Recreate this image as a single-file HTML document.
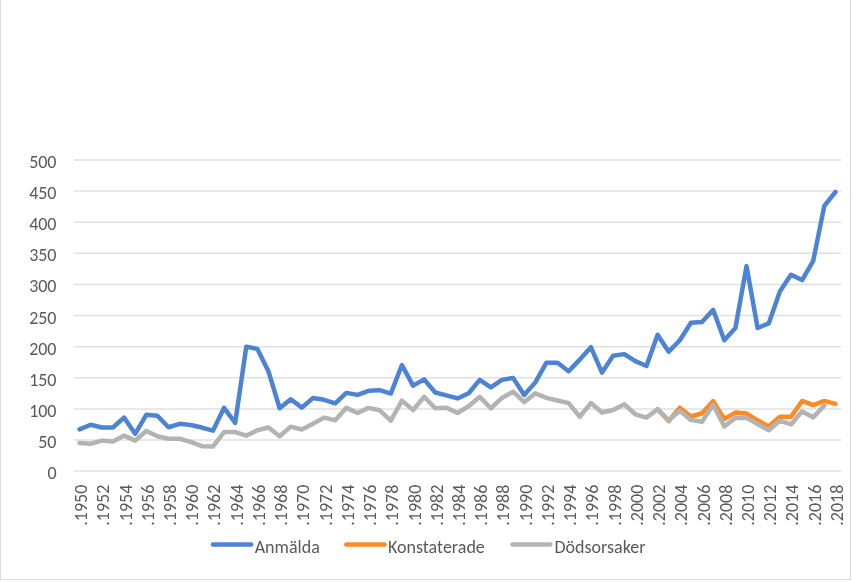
<!DOCTYPE html>
<html><head><meta charset="utf-8"><style>
html,body{margin:0;padding:0;background:#fff;}
body{width:853px;height:582px;overflow:hidden;}
svg{display:block;will-change:transform;}
text{font-family:"Carlito", "Liberation Sans", sans-serif;font-size:18px;fill:#595959;}
</style></head><body>
<svg width="853" height="582" viewBox="0 0 853 582">
<path d="M0.5,0 V579.5 H850.5 V0" fill="none" stroke="#dcdcdc" stroke-width="1.2"/>
<line x1="74.0" x2="841.0" y1="439.99" y2="439.99" stroke="#e0e0e0" stroke-width="1.5"/>
<line x1="74.0" x2="841.0" y1="408.88" y2="408.88" stroke="#e0e0e0" stroke-width="1.5"/>
<line x1="74.0" x2="841.0" y1="377.77" y2="377.77" stroke="#e0e0e0" stroke-width="1.5"/>
<line x1="74.0" x2="841.0" y1="346.66" y2="346.66" stroke="#e0e0e0" stroke-width="1.5"/>
<line x1="74.0" x2="841.0" y1="315.55" y2="315.55" stroke="#e0e0e0" stroke-width="1.5"/>
<line x1="74.0" x2="841.0" y1="284.44" y2="284.44" stroke="#e0e0e0" stroke-width="1.5"/>
<line x1="74.0" x2="841.0" y1="253.33" y2="253.33" stroke="#e0e0e0" stroke-width="1.5"/>
<line x1="74.0" x2="841.0" y1="222.22" y2="222.22" stroke="#e0e0e0" stroke-width="1.5"/>
<line x1="74.0" x2="841.0" y1="191.11" y2="191.11" stroke="#e0e0e0" stroke-width="1.5"/>
<line x1="74.0" x2="841.0" y1="160.00" y2="160.00" stroke="#e0e0e0" stroke-width="1.5"/>
<line x1="74.0" x2="841.0" y1="471.10" y2="471.10" stroke="#e0e0e0" stroke-width="1.5"/>
<text x="56.5" y="479.10" text-anchor="end">0</text>
<text x="56.5" y="447.99" text-anchor="end">50</text>
<text x="56.5" y="416.88" text-anchor="end">100</text>
<text x="56.5" y="385.77" text-anchor="end">150</text>
<text x="56.5" y="354.66" text-anchor="end">200</text>
<text x="56.5" y="323.55" text-anchor="end">250</text>
<text x="56.5" y="292.44" text-anchor="end">300</text>
<text x="56.5" y="261.33" text-anchor="end">350</text>
<text x="56.5" y="230.22" text-anchor="end">400</text>
<text x="56.5" y="199.11" text-anchor="end">450</text>
<text x="56.5" y="168.00" text-anchor="end">500</text>
<text transform="translate(87.06,484.7) rotate(-90)" text-anchor="end">.1950</text>
<text transform="translate(109.29,484.7) rotate(-90)" text-anchor="end">.1952</text>
<text transform="translate(131.52,484.7) rotate(-90)" text-anchor="end">.1954</text>
<text transform="translate(153.75,484.7) rotate(-90)" text-anchor="end">.1956</text>
<text transform="translate(175.99,484.7) rotate(-90)" text-anchor="end">.1958</text>
<text transform="translate(198.22,484.7) rotate(-90)" text-anchor="end">.1960</text>
<text transform="translate(220.45,484.7) rotate(-90)" text-anchor="end">.1962</text>
<text transform="translate(242.68,484.7) rotate(-90)" text-anchor="end">.1964</text>
<text transform="translate(264.91,484.7) rotate(-90)" text-anchor="end">.1966</text>
<text transform="translate(287.14,484.7) rotate(-90)" text-anchor="end">.1968</text>
<text transform="translate(309.38,484.7) rotate(-90)" text-anchor="end">.1970</text>
<text transform="translate(331.61,484.7) rotate(-90)" text-anchor="end">.1972</text>
<text transform="translate(353.84,484.7) rotate(-90)" text-anchor="end">.1974</text>
<text transform="translate(376.07,484.7) rotate(-90)" text-anchor="end">.1976</text>
<text transform="translate(398.30,484.7) rotate(-90)" text-anchor="end">.1978</text>
<text transform="translate(420.54,484.7) rotate(-90)" text-anchor="end">.1980</text>
<text transform="translate(442.77,484.7) rotate(-90)" text-anchor="end">.1982</text>
<text transform="translate(465.00,484.7) rotate(-90)" text-anchor="end">.1984</text>
<text transform="translate(487.23,484.7) rotate(-90)" text-anchor="end">.1986</text>
<text transform="translate(509.46,484.7) rotate(-90)" text-anchor="end">.1988</text>
<text transform="translate(531.70,484.7) rotate(-90)" text-anchor="end">.1990</text>
<text transform="translate(553.93,484.7) rotate(-90)" text-anchor="end">.1992</text>
<text transform="translate(576.16,484.7) rotate(-90)" text-anchor="end">.1994</text>
<text transform="translate(598.39,484.7) rotate(-90)" text-anchor="end">.1996</text>
<text transform="translate(620.62,484.7) rotate(-90)" text-anchor="end">.1998</text>
<text transform="translate(642.86,484.7) rotate(-90)" text-anchor="end">.2000</text>
<text transform="translate(665.09,484.7) rotate(-90)" text-anchor="end">.2002</text>
<text transform="translate(687.32,484.7) rotate(-90)" text-anchor="end">.2004</text>
<text transform="translate(709.55,484.7) rotate(-90)" text-anchor="end">.2006</text>
<text transform="translate(731.78,484.7) rotate(-90)" text-anchor="end">.2008</text>
<text transform="translate(754.01,484.7) rotate(-90)" text-anchor="end">.2010</text>
<text transform="translate(776.25,484.7) rotate(-90)" text-anchor="end">.2012</text>
<text transform="translate(798.48,484.7) rotate(-90)" text-anchor="end">.2014</text>
<text transform="translate(820.71,484.7) rotate(-90)" text-anchor="end">.2016</text>
<text transform="translate(842.94,484.7) rotate(-90)" text-anchor="end">.2018</text>
<polyline points="79.56,429.41 90.67,424.75 101.79,427.55 112.91,427.55 124.02,417.59 135.14,433.77 146.25,414.79 157.37,415.72 168.49,427.23 179.60,423.81 190.72,425.06 201.83,427.55 212.95,430.66 224.07,407.82 235.18,422.88 246.30,346.66 257.41,348.90 268.53,371.55 279.64,408.26 290.76,399.30 301.88,407.64 312.99,397.99 324.11,399.80 335.22,403.28 346.34,392.89 357.46,394.88 368.57,390.84 379.69,390.21 390.80,393.57 401.92,365.01 413.04,385.67 424.15,379.33 435.27,392.52 446.38,395.38 457.50,398.43 468.62,393.20 479.73,379.89 490.85,387.41 501.96,379.89 513.08,377.89 524.20,395.00 535.31,382.37 546.43,362.71 557.54,362.71 568.66,371.30 579.78,359.60 590.89,347.16 602.01,372.61 613.12,355.81 624.24,354.13 635.36,361.10 646.47,366.01 657.59,334.84 668.70,351.82 679.82,340.19 690.93,322.77 702.05,322.08 713.17,309.83 724.28,340.19 735.40,327.99 746.51,266.09 757.63,327.99 768.75,323.39 779.86,291.41 790.98,274.73 802.09,280.08 813.21,260.80 824.33,205.92 835.44,191.98" fill="none" stroke="#4D83D5" stroke-width="4.5" stroke-linejoin="round" stroke-linecap="round"/>
<polyline points="657.59,409.19 668.70,421.01 679.82,407.64 690.93,416.53 702.05,413.24 713.17,401.10 724.28,419.02 735.40,412.61 746.51,413.61 757.63,420.33 768.75,426.49 779.86,416.72 790.98,416.72 802.09,400.92 813.21,405.02 824.33,400.92 835.44,403.90" fill="none" stroke="#FD8A23" stroke-width="4.5" stroke-linejoin="round" stroke-linecap="round"/>
<polyline points="79.56,443.10 90.67,443.72 101.79,440.61 112.91,441.55 124.02,435.63 135.14,440.61 146.25,430.97 157.37,436.26 168.49,438.75 179.60,438.75 190.72,441.86 201.83,446.21 212.95,446.52 224.07,432.09 235.18,432.09 246.30,435.63 257.41,430.28 268.53,427.55 279.64,436.26 290.76,426.67 301.88,429.47 312.99,423.81 324.11,417.59 335.22,420.20 346.34,407.88 357.46,412.99 368.57,407.88 379.69,410.31 390.80,420.70 401.92,400.60 413.04,410.12 424.15,396.81 435.27,408.26 446.38,407.64 457.50,412.99 468.62,406.20 479.73,396.81 490.85,408.26 501.96,397.93 513.08,391.71 524.20,402.22 535.31,393.33 546.43,397.93 557.54,400.48 568.66,403.09 579.78,416.78 590.89,403.09 602.01,412.49 613.12,410.00 624.24,404.28 635.36,414.29 646.47,417.59 657.59,409.19 668.70,420.39 679.82,410.75 690.93,419.89 702.05,421.70 713.17,404.77 724.28,426.43 735.40,417.90 746.51,417.84 757.63,424.12 768.75,430.22 779.86,420.70 790.98,424.44 802.09,411.37 813.21,417.40 824.33,405.52" fill="none" stroke="#B3B3B3" stroke-width="4.5" stroke-linejoin="round" stroke-linecap="round"/>
<line x1="212.9" x2="251.2" y1="544.5" y2="544.5" stroke="#4D83D5" stroke-width="4.5" stroke-linecap="round"/>
<text x="254.7" y="552.5">Anmälda</text>
<line x1="346.2" x2="384.6" y1="544.5" y2="544.5" stroke="#FD8A23" stroke-width="4.5" stroke-linecap="round"/>
<text x="388.0" y="552.5">Konstaterade</text>
<line x1="512.5" x2="550.3" y1="544.5" y2="544.5" stroke="#B3B3B3" stroke-width="4.5" stroke-linecap="round"/>
<text x="554.5" y="552.5">Dödsorsaker</text>
</svg>
</body></html>
